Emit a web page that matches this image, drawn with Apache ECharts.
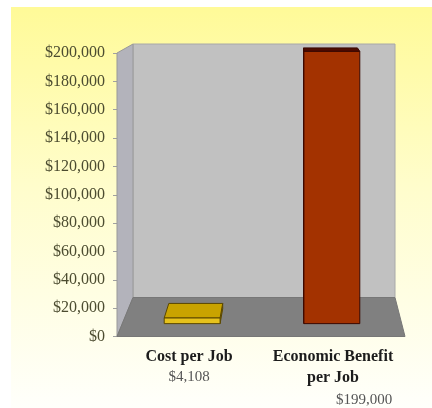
<!DOCTYPE html>
<html>
<head>
<meta charset="utf-8">
<script src="https://cdn.jsdelivr.net/npm/echarts@6/dist/echarts.min.js"></script>
<style>html,body{margin:0;padding:0;background:#fff;}#c{width:432px;height:408px;}</style>
</head>
<body>
<div id="c"></div>
<script>
// ---- data ----
const categories = ['Cost per Job', 'Economic Benefit\nper Job'];
const values = [4108, 199000];
const yMin = 0, yMax = 200000, yInterval = 20000;

// ---- styles ----
const barPalette = [
  { front: '#e6c21c', top: '#c9a300', side: '#a48300', stroke: '#5a4700' },
  { front: '#a33200', top: '#4f0d00', side: '#6a1800', stroke: '#3a0800' }
];
const T1 = 0.33, T2 = 0.71;

function money(v) { return '$' + Number(v).toLocaleString('en-US'); }

function proj(cs, p, t) {
  const bx = cs.x + 16 + (p[0] - cs.x) * (cs.width - 26) / cs.width;
  const by = cs.y - 9 + (p[1] - cs.y) * (cs.height - 30) / cs.height;
  return [p[0] + (bx - p[0]) * t, p[1] + (by - p[1]) * t];
}

const chart = echarts.init(document.getElementById('c'));
chart.setOption({
  backgroundColor: '#ffffff',
  animation: false,
  graphic: [{
    type: 'rect', z: -10, silent: true,
    shape: { x: 11, y: 7, width: 421, height: 401 },
    style: {
      fill: new echarts.graphic.LinearGradient(0, 0, 0, 1, [
        { offset: 0, color: '#fffa98' },
        { offset: 0.45, color: '#fffdcc' },
        { offset: 1, color: '#fffffb' }
      ])
    }
  }],
  grid: { left: 117, right: 27, top: 53, bottom: 71 },
  xAxis: {
    type: 'category',
    data: categories,
    axisLine: { show: false },
    axisTick: { show: false },
    axisLabel: {
      interval: 0,
      margin: 10,
      formatter: function (name, idx) {
        return '{name|' + name + '}\n{' + (idx === 1 ? 'valR' : 'val') + '|' + money(values[idx]) + '}';
      },
      rich: {
        name: { fontFamily: 'Liberation Serif', fontWeight: 'bold', fontSize: 16, color: '#1c1c1c', lineHeight: 21 },
        val: { fontFamily: 'Liberation Serif', fontSize: 15, color: '#555555', lineHeight: 19 },
        valR: { fontFamily: 'Liberation Serif', fontSize: 15, color: '#555555', lineHeight: 24, padding: [0, 0, 0, 62] }
      }
    }
  },
  yAxis: {
    type: 'value',
    min: yMin, max: yMax, interval: yInterval,
    axisLine: { show: false },
    axisTick: { show: true, length: 4, lineStyle: { color: '#a0a0a0' } },
    splitLine: { show: false },
    axisLabel: {
      margin: 12,
      fontFamily: 'Liberation Serif', fontSize: 16, color: '#4c4c30',
      formatter: function (v) { return money(v); }
    }
  },
  series: [
    {
      type: 'custom',
      z: 1,
      silent: true,
      data: [[0, 0]],
      renderItem: function (params, api) {
        const cs = params.coordSys;
        const tl = [cs.x, cs.y], tr = [cs.x + cs.width, cs.y];
        const fl = [cs.x, cs.y + cs.height], fr = [cs.x + cs.width, cs.y + cs.height];
        return {
          type: 'group',
          children: [
            { type: 'polygon', shape: { points: [proj(cs, tl, 1), proj(cs, tr, 1), proj(cs, fr, 1), proj(cs, fl, 1)] },
              style: { fill: '#c1c1c1', stroke: '#a8a8a8', lineWidth: 1 } },
            { type: 'polygon', shape: { points: [tl, proj(cs, tl, 1), proj(cs, fl, 1), fl] },
              style: { fill: '#b3b3bb', stroke: '#999999', lineWidth: 1 } },
            { type: 'polygon', shape: { points: [fl, fr, proj(cs, fr, 1), proj(cs, fl, 1)] },
              style: { fill: '#808080', stroke: '#777777', lineWidth: 1 } }
          ]
        };
      }
    },
    {
      type: 'custom',
      z: 2,
      data: values.map(function (v, i) { return [i, v]; }),
      encode: { x: 0, y: 1 },
      renderItem: function (params, api) {
        const cs = params.coordSys;
        const i = api.value(0), v = api.value(1);
        const base = api.coord([i, 0]), top = api.coord([i, v]);
        const cx = base[0], y0 = base[1], yv = top[1];
        const hw = api.size([1, 0])[0] * 0.2;
        const P = function (x, y, t) { return proj(cs, [x, y], t); };
        const c = barPalette[i % barPalette.length];
        const shift = P(cx, yv, T2)[0] - P(cx, yv, T1)[0];
        const sx = shift > 0 ? cx + hw : cx - hw;
        const st = { stroke: c.stroke, lineWidth: 1, lineJoin: 'round' };
        return {
          type: 'group',
          children: [
            { type: 'polygon', shape: { points: [P(sx, y0, T1), P(sx, yv, T1), P(sx, yv, T2), P(sx, y0, T2)] },
              style: Object.assign({ fill: c.side }, st) },
            { type: 'polygon', shape: { points: [P(cx - hw, yv, T1), P(cx + hw, yv, T1), P(cx + hw, yv, T2), P(cx - hw, yv, T2)] },
              style: Object.assign({ fill: c.top }, st) },
            { type: 'polygon', shape: { points: [P(cx - hw, y0, T1), P(cx + hw, y0, T1), P(cx + hw, yv, T1), P(cx - hw, yv, T1)] },
              style: Object.assign({ fill: c.front }, st) }
          ]
        };
      }
    }
  ]
});
</script>
</body>
</html>
